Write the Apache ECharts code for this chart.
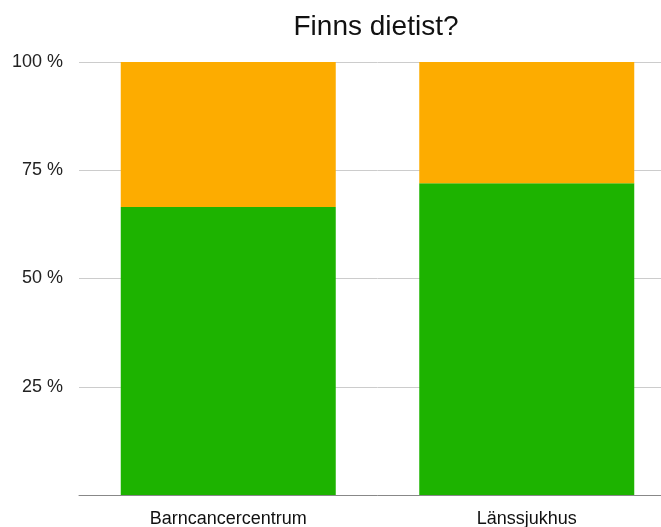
<!DOCTYPE html>
<html>
<head>
<meta charset="utf-8">
<script src="https://cdn.jsdelivr.net/npm/echarts@6/dist/echarts.min.js"></script>
<style>html,body{margin:0;padding:0;background:#fff;overflow:hidden;width:661px;height:527px}#c{width:680px;height:527px}</style>
</head>
<body>
<div id="c"></div>
<script>
var categories = ['Barncancercentrum', 'Länssjukhus'];
var jaValues = [66.5, 72];
var nejValues = [33.5, 28];
var yTicks = [0, 25, 50, 75, 100];

var chart = echarts.init(document.getElementById('c'));
chart.setOption({
  animation: false,
  title: {
    text: 'Finns dietist?',
    left: 371, top: 8, textAlign: 'center',
    textStyle: {fontFamily: 'Liberation Sans', fontSize: 28, fontWeight: 'normal', color: '#111'}
  },
  grid: {left: 79, right: 4, top: 62, bottom: 32, containLabel: false, outerBoundsMode: 'none'},
  xAxis: {
    type: 'category', data: categories,
    axisLine: {lineStyle: {color: '#888', width: 1}},
    axisTick: {show: false},
    axisLabel: {fontFamily: 'Liberation Sans', fontSize: 18, color: '#111', margin: 15}
  },
  yAxis: {
    type: 'value', min: 0, max: 100, interval: 25,
    axisLine: {show: false}, axisTick: {show: false},
    splitLine: {lineStyle: {color: '#cccccc', width: 1}},
    axisLabel: {
      fontFamily: 'Liberation Sans', fontSize: 18, color: '#222', margin: 16,
      formatter: function (v) { return (v === 0 || yTicks.indexOf(v) < 0) ? '' : v + ' %'; }
    }
  },
  series: [
    {name: 'Ja', type: 'bar', stack: 's', data: jaValues, barWidth: 215, itemStyle: {color: '#1db300'}},
    {name: 'Nej', type: 'bar', stack: 's', data: nejValues, barWidth: 215, itemStyle: {color: '#fdac00'}}
  ]
});
</script>
</body>
</html>
